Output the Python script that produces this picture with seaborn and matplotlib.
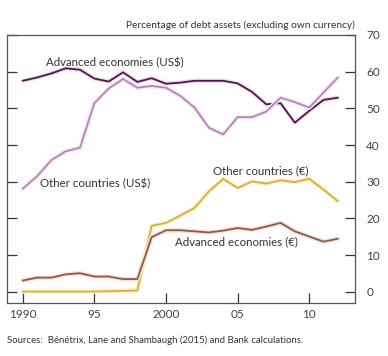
import numpy as np
import pandas as pd
import matplotlib
matplotlib.use("Agg")
import matplotlib.pyplot as plt
import matplotlib.patheffects as pe
import seaborn as sns

years = list(range(1990, 2013))
adv_usd = [57.5, 58.4, 59.5, 60.9, 60.5, 58.1, 57.3, 59.8, 57.2, 58.2, 56.7, 57.0,
           57.5, 57.5, 57.5, 56.8, 54.5, 51.1, 51.4, 46.1, 49.3, 52.3, 52.9]
oth_usd = [28.1, 31.5, 35.9, 38.3, 39.3, 51.4, 55.4, 58.0, 55.6, 56.1, 55.6, 53.4,
           50.2, 44.7, 42.9, 47.6, 47.6, 49.1, 52.9, 51.7, 50.2, 54.3, 58.4]
oth_eur = [0.1, 0.1, 0.1, 0.1, 0.1, 0.1, 0.2, 0.3, 0.4, 18.0, 18.8, 20.8,
           22.9, 27.4, 30.8, 28.3, 30.1, 29.5, 30.4, 29.9, 30.8, 27.9, 24.7]
adv_eur = [3.1, 3.9, 3.9, 4.8, 5.1, 4.2, 4.2, 3.5, 3.5, 14.9, 16.8, 16.8,
           16.5, 16.2, 16.7, 17.4, 16.9, 17.8, 18.8, 16.5, 15.1, 13.7, 14.5]

series_names = ["Advanced economies (US$)", "Other countries (US$)",
                "Other countries (€)", "Advanced economies (€)"]
series_vals = [adv_usd, oth_usd, oth_eur, adv_eur]
colors = ["#4a1a48", "#b585b5", "#d8ae45", "#8c5a4c"]
halos = ["#f3dcf1", "#f6e6f6", "#fcf1c4", "#f7e2d8"]

yticks = [0, 10, 20, 30, 40, 50, 60, 70]
xticks = [1990, 1995, 2000, 2005, 2010]
xticklabels = ["1990", "95", "2000", "05", "10"]

df = pd.DataFrame({
    "year": years * 4,
    "value": sum(series_vals, []),
    "series": sum([[n] * len(years) for n in series_names], []),
})

sns.set_theme(style="white")
plt.rcParams['font.family'] = ['Lato', 'DejaVu Sans']

fig = plt.figure(figsize=(3.88, 3.56), dpi=100)
ax = fig.add_axes([0.018, 0.149, 0.897, 0.753])

sns.lineplot(data=df, x="year", y="value", hue="series", hue_order=series_names,
             palette=dict(zip(series_names, colors)), linewidth=1.3, ax=ax,
             legend=False)
for line, h in zip(ax.get_lines(), halos):
    line.set_path_effects([pe.Stroke(linewidth=3.2, foreground=h), pe.Normal()])

ax.set_xlim(1988.9, 2013.2)
ax.set_ylim(-3, 70)
ax.set_xlabel("")
ax.set_ylabel("")
ax.set_xticks(xticks)
ax.set_xticklabels(xticklabels)
ax.set_yticks(yticks)
ax.yaxis.tick_right()
ax.tick_params(axis="y", which="both", left=True, right=True, labelleft=False,
               labelright=True, direction="in", length=7, width=0.9,
               color="#333333", labelsize=8.5, labelcolor="#444444", pad=8)
ax.tick_params(axis="x", bottom=True, direction="in", length=7, width=0.9,
               color="#333333", labelsize=8.5, labelcolor="#444444", pad=4)
for s in ax.spines.values():
    s.set_visible(True)
    s.set_color("#555555")
    s.set_linewidth(0.9)

tc = "#333333"
ax.text(1991.6, 62.5, "Advanced economies (US$)", fontsize=8.3, color=tc, va="center")
ax.text(1991.2, 29.6, "Other countries (US$)", fontsize=8.3, color=tc, va="center")
ax.text(2003.3, 32.9, "Other countries (€)", fontsize=8.3, color=tc, va="center")
ax.text(2000.6, 13.7, "Advanced economies (€)", fontsize=8.3, color=tc, va="center")

fig.text(0.915, 0.93, "Percentage of debt assets (excluding own currency)",
         fontsize=7.3, color=tc, ha="right", va="center")
fig.text(0.018, 0.045, "Sources:  Bénétrix, Lane and Shambaugh (2015) and Bank calculations.",
         fontsize=6.9, color=tc, ha="left", va="center")

fig.savefig("out.png", dpi=100, facecolor="white")
